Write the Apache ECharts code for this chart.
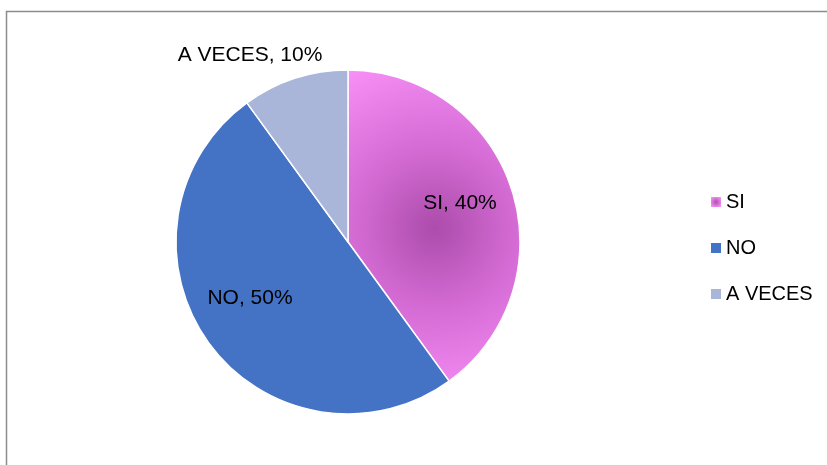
<!DOCTYPE html>
<html>
<head>
<meta charset="utf-8">
<script src="https://cdn.jsdelivr.net/npm/echarts@6/dist/echarts.min.js"></script>
<style>
  html, body { margin: 0; padding: 0; background: #fff; }
  #chart { width: 827px; height: 465px; }
</style>
</head>
<body>
<div id="chart"></div>
<script>
// datos del gráfico
const categorias = ['SI', 'NO', 'A VECES']
const valores = [40, 50, 10]
const colores = ['#d86ed8', '#4472c4', '#a9b6da']

// donde va cada etiqueta (centro del texto)
const posEtiquetas = [[460, 203], [250, 298], [250, 55]]

const myChart = echarts.init(document.getElementById('chart'))

// degradado radial del sector SI
const degradadoSI = {
    type: 'radial', x: 435, y: 228, r: 185, global: true,
    colorStops: [
        { offset: 0, color: '#ac4cac' },
        { offset: 0.45, color: '#d56cd5' },
        { offset: 1, color: '#fa92fa' }
    ]
}
const degradadoLeyenda = {
    type: 'radial', x: 0.5, y: 0.5, r: 0.6,
    colorStops: [
        { offset: 0, color: '#b050b0' },
        { offset: 1, color: '#f590f5' }
    ]
}

const option = {
    animation: false,
    textStyle: { fontFamily: 'Liberation Sans' },
    graphic: [{
        type: 'rect',
        shape: { x: 6.5, y: 11.5, width: 900, height: 600 },
        style: { fill: 'none', stroke: '#8c8c8c', lineWidth: 1.5 },
        silent: true
    }],
    legend: {
        orient: 'vertical',
        left: 706,
        top: 187,
        itemWidth: 10,
        itemHeight: 10,
        itemGap: 26,
        icon: 'rect',
        itemStyle: { borderWidth: 0 },
        textStyle: { fontSize: 20, lineHeight: 20, color: '#000', fontFamily: 'Liberation Sans' },
        data: categorias.map((c, i) => i === 0
            ? { name: c, itemStyle: { color: degradadoLeyenda, borderWidth: 0 } }
            : { name: c })
    },
    series: [{
        type: 'pie',
        center: [348, 242],
        radius: 172,
        startAngle: 90,
        clockwise: true,
        itemStyle: { borderColor: '#fff', borderWidth: 1.5 },
        label: {
            show: true,
            position: 'inside',
            formatter: '{b}, {c}%',
            fontSize: 21,
            color: '#000',
            fontFamily: 'Liberation Sans'
        },
        labelLine: { show: false },
        labelLayout: (params) => ({
            x: posEtiquetas[params.dataIndex][0],
            y: posEtiquetas[params.dataIndex][1],
            align: 'center',
            verticalAlign: 'middle'
        }),
        emphasis: { disabled: true },
        data: categorias.map((c, i) => ({
            name: c,
            value: valores[i],
            itemStyle: { color: i === 0 ? degradadoSI : colores[i] }
        }))
    }]
}

myChart.setOption(option)
</script>
</body>
</html>
